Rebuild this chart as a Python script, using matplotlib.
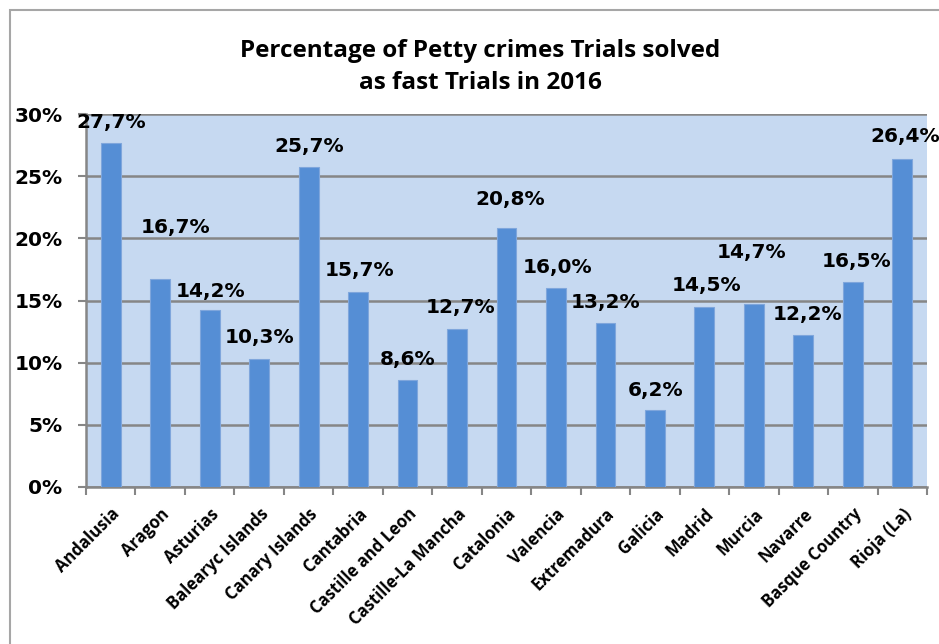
import matplotlib.pyplot as plt
from matplotlib.patches import Rectangle
from matplotlib.ticker import FixedLocator

regions = [
    "Andalusia", "Aragon", "Asturias", "Balearyc Islands", "Canary Islands",
    "Cantabria", "Castille and Leon", "Castille-La Mancha", "Catalonia",
    "Valencia", "Extremadura", "Galicia", "Madrid", "Murcia", "Navarre",
    "Basque Country", "Rioja (La)",
]
pct_fast = [27.7, 16.7, 14.2, 10.3, 25.7, 15.7, 8.6, 12.7, 20.8,
            16.0, 13.2, 6.2, 14.5, 14.7, 12.2, 16.5, 26.4]
y_ticks = [0, 5, 10, 15, 20, 25, 30]

# data label nudges (pixels), like the hand-moved labels in the original
label_dx = [0, 15, 1, 0, 1, 1, 0, 3, 4, 2, 0, 1, 2, -2, 4, 4, 3]
label_dy = [20, 52, 19, 21, 21, 21, 21, 22, 29, 21, 20, 19, 21, 52, 21, 20, 22]

BAR = "#558ED5"
BG = "#C6D9F1"
GRID = "#868686"

fig = plt.figure(figsize=(9.39, 6.44), dpi=100)

# outer chart frame (cut off on the right and bottom in the original)
fig.patches.append(Rectangle((10 / 939, -0.1), 1.2, 1 - 10 / 644 + 0.1,
                             transform=fig.transFigure, fill=False,
                             edgecolor="#A6A6A6", linewidth=1.5))

ax = fig.add_axes([86 / 939, 1 - 487 / 644, (927 - 86) / 939, (487 - 114) / 644])
ax.set_facecolor(BG)

x = range(len(regions))
ax.bar(x, pct_fast, width=0.4, color=BAR, edgecolor="#7FA6DC",
       linewidth=0.8, zorder=3)

for i, v in enumerate(pct_fast):
    ax.annotate(f"{v:.1f}%".replace(".", ","), (i, v),
                xytext=(label_dx[i], label_dy[i]), textcoords="offset pixels",
                ha="center", va="center", fontsize=14.5, fontweight="bold",
                family="DejaVu Sans", annotation_clip=False, zorder=4)

ax.set_xlim(-0.5, len(regions) - 0.5)
ax.set_ylim(0, 30)
ax.set_yticks(y_ticks)
ax.set_yticklabels([f"{t}%" for t in y_ticks], fontsize=14.5,
                   fontweight="bold", family="DejaVu Sans")
ax.yaxis.grid(True, color=GRID, linewidth=1.8, zorder=1)
ax.set_axisbelow(True)

ax.set_xticks(list(x))
ax.set_xticklabels(regions, rotation=45, ha="right", va="top",
                   rotation_mode="anchor", fontsize=12, fontweight="bold",
                   family="Open Sans")
ax.xaxis.set_minor_locator(FixedLocator([i - 0.5 for i in range(len(regions) + 1)]))
ax.tick_params(axis="x", which="major", length=0, pad=13)
ax.tick_params(axis="x", which="minor", length=6, width=1.5, color=GRID)
ax.tick_params(axis="y", length=6, width=1.5, color=GRID, pad=11)

for side in ["top", "right"]:
    ax.spines[side].set_visible(False)
for side in ["left", "bottom"]:
    ax.spines[side].set_color(GRID)
    ax.spines[side].set_linewidth(1.8)

fig.text(480 / 939, 1 - 67 / 644,
         "Percentage of Petty crimes Trials solved\nas fast Trials in 2016",
         ha="center", va="center", fontsize=17.5, fontweight="bold",
         family="Open Sans", linespacing=1.4)

fig.savefig("out.png", dpi=100)
